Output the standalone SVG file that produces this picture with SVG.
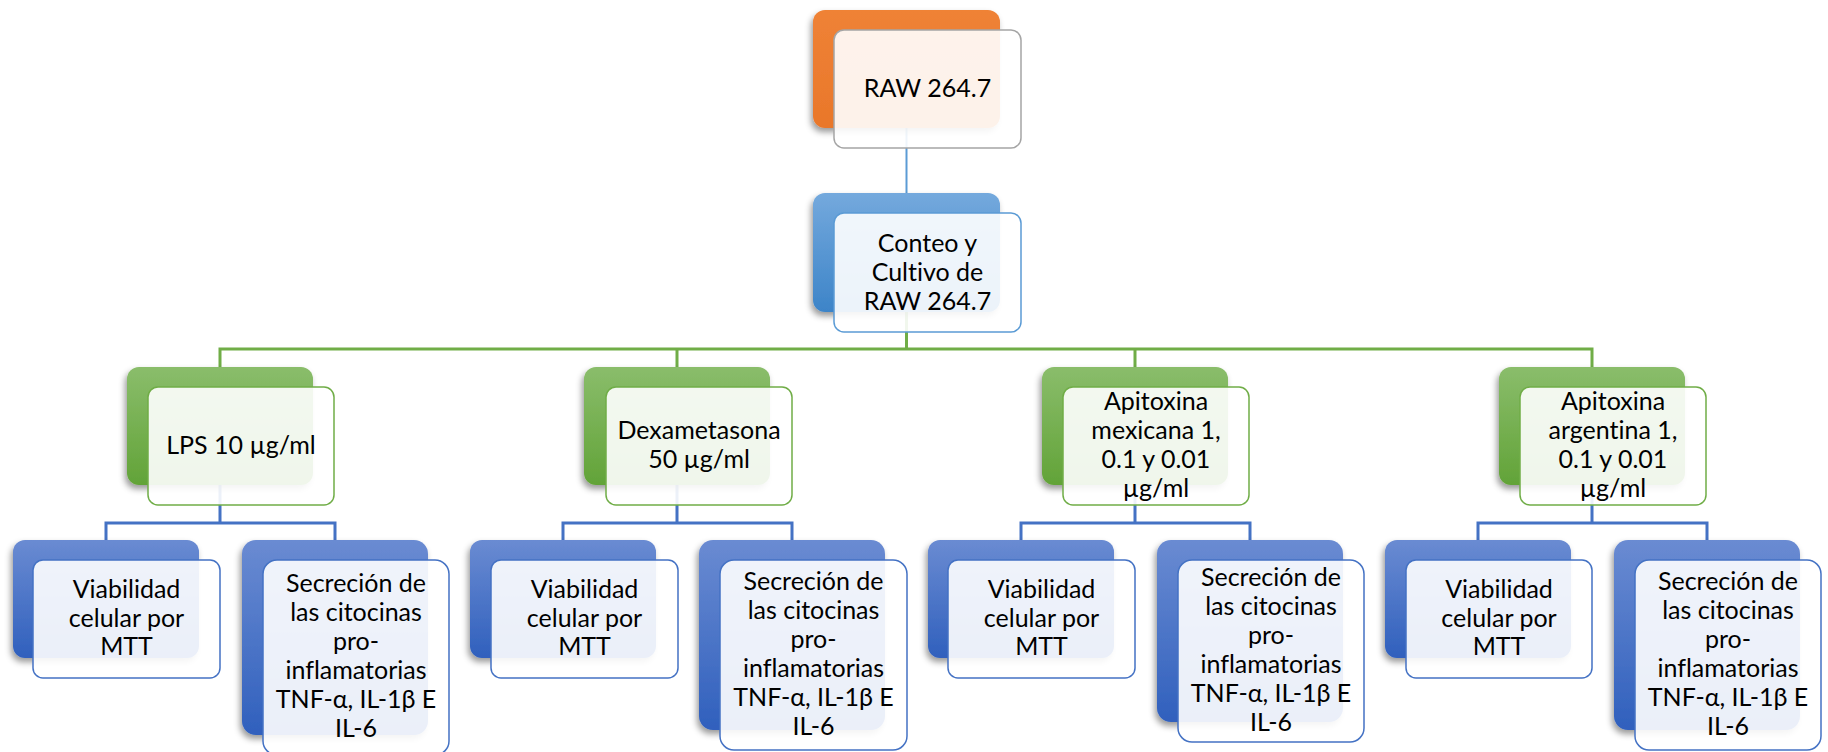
<svg xmlns="http://www.w3.org/2000/svg" width="1828" height="752" viewBox="0 0 1828 752">
<defs>
<linearGradient id="gOrange" x1="0" y1="0" x2="0" y2="1"><stop offset="0" stop-color="#ef8236"/><stop offset="1" stop-color="#e9772a"/></linearGradient>
<linearGradient id="gSky" x1="0" y1="0" x2="0" y2="1"><stop offset="0" stop-color="#74a9dd"/><stop offset="1" stop-color="#3d84c8"/></linearGradient>
<linearGradient id="gGreen" x1="0" y1="0" x2="0" y2="1"><stop offset="0" stop-color="#8abd6b"/><stop offset="1" stop-color="#62a338"/></linearGradient>
<linearGradient id="gBlue" x1="0" y1="0" x2="0" y2="1"><stop offset="0" stop-color="#6a8bd2"/><stop offset="1" stop-color="#3060bd"/></linearGradient>
<filter id="sh" x="-20%" y="-20%" width="140%" height="150%"><feDropShadow dx="-2" dy="4" stdDeviation="3" flood-color="#000" flood-opacity="0.4"/></filter>
</defs>
<style>
.back{filter:url(#sh)}
.front{fill:#ffffff;fill-opacity:0.9;stroke-width:1.5}
.t{font-family:Lato,"Liberation Sans",sans-serif;font-size:25px;fill:#000;text-anchor:middle;font-variant-ligatures:none;font-feature-settings:"liga" 0}
.c{fill:none;stroke-linejoin:miter}
</style>
<rect width="1828" height="752" fill="#fff"/>
<g id="connectors">
<path class="c" d="M906.5,128V193" stroke="#5b9bd5" stroke-width="2"/>
<path class="c" d="M906.5,312V349M220,367V349H1592V367M677,349V367M1135,349V367" stroke="#70ad47" stroke-width="3"/>
<path class="c" d="M220,485V523M106,540V523H335V540" stroke="#4472c4" stroke-width="3"/>
<path class="c" d="M677,485V523M563,540V523H792V540" stroke="#4472c4" stroke-width="3"/>
<path class="c" d="M1135,485V523M1021,540V523H1250V540" stroke="#4472c4" stroke-width="3"/>
<path class="c" d="M1592,485V523M1478,540V523H1707V540" stroke="#4472c4" stroke-width="3"/>
</g>
<g id="n-raw">
<rect class="back" x="813" y="10" width="187" height="118" rx="12" fill="url(#gOrange)"/>
<rect class="front" x="834" y="30" width="187" height="118" rx="10" stroke="#a5a5a5"/>
<text class="t" x="927.5" y="97">RAW 264.7</text>
</g>
<g id="n-conteo">
<rect class="back" x="813" y="193" width="187" height="119" rx="12" fill="url(#gSky)"/>
<rect class="front" x="834" y="213" width="187" height="119" rx="10" stroke="#5b9bd5"/>
<text class="t" x="927.5" y="252">Conteo y</text>
<text class="t" x="927.5" y="281">Cultivo de</text>
<text class="t" x="927.5" y="310">RAW 264.7</text>
</g>
<g id="n-lps">
<rect class="back" x="127" y="367" width="186" height="118" rx="12" fill="url(#gGreen)"/>
<rect class="front" x="148" y="387" width="186" height="118" rx="10" stroke="#70ad47"/>
<text class="t" x="241" y="454">LPS 10 µg/ml</text>
</g>
<g id="n-dexa">
<rect class="back" x="584" y="367" width="186" height="118" rx="12" fill="url(#gGreen)"/>
<rect class="front" x="606" y="387" width="186" height="118" rx="10" stroke="#70ad47"/>
<text class="t" x="699" y="439">Dexametasona</text>
<text class="t" x="699" y="468">50 µg/ml</text>
</g>
<g id="n-apimex">
<rect class="back" x="1042" y="367" width="186" height="118" rx="12" fill="url(#gGreen)"/>
<rect class="front" x="1063" y="387" width="186" height="118" rx="10" stroke="#70ad47"/>
<text class="t" x="1156" y="410">Apitoxina</text>
<text class="t" x="1156" y="439">mexicana 1,</text>
<text class="t" x="1156" y="468">0.1 y 0.01</text>
<text class="t" x="1156" y="497">µg/ml</text>
</g>
<g id="n-apiarg">
<rect class="back" x="1499" y="367" width="186" height="118" rx="12" fill="url(#gGreen)"/>
<rect class="front" x="1520" y="387" width="186" height="118" rx="10" stroke="#70ad47"/>
<text class="t" x="1613" y="410">Apitoxina</text>
<text class="t" x="1613" y="439">argentina 1,</text>
<text class="t" x="1613" y="468">0.1 y 0.01</text>
<text class="t" x="1613" y="497">µg/ml</text>
</g>
<g id="n-viab1">
<rect class="back" x="13" y="540" width="186" height="118" rx="12" fill="url(#gBlue)"/>
<rect class="front" x="33" y="560" width="187" height="118" rx="10" stroke="#4472c4"/>
<text class="t" x="126.5" y="598">Viabilidad</text>
<text class="t" x="126.5" y="627">celular por</text>
<text class="t" x="126.5" y="655">MTT</text>
</g>
<g id="n-secr1">
<rect class="back" x="242" y="540" width="186" height="195" rx="14" fill="url(#gBlue)"/>
<rect class="front" x="263" y="560" width="186" height="195" rx="14" stroke="#4472c4"/>
<text class="t" x="356" y="592">Secreción de</text>
<text class="t" x="356" y="621">las citocinas</text>
<text class="t" x="356" y="650">pro-</text>
<text class="t" x="356" y="679">inflamatorias</text>
<text class="t" x="356" y="708">TNF-α, IL-1β E</text>
<text class="t" x="356" y="737">IL-6</text>
</g>
<g id="n-viab2">
<rect class="back" x="470" y="540" width="186" height="118" rx="12" fill="url(#gBlue)"/>
<rect class="front" x="491" y="560" width="187" height="118" rx="10" stroke="#4472c4"/>
<text class="t" x="584.5" y="598">Viabilidad</text>
<text class="t" x="584.5" y="627">celular por</text>
<text class="t" x="584.5" y="655">MTT</text>
</g>
<g id="n-secr2">
<rect class="back" x="699" y="540" width="186" height="190" rx="14" fill="url(#gBlue)"/>
<rect class="front" x="720" y="560" width="187" height="190" rx="14" stroke="#4472c4"/>
<text class="t" x="813.5" y="590">Secreción de</text>
<text class="t" x="813.5" y="619">las citocinas</text>
<text class="t" x="813.5" y="648">pro-</text>
<text class="t" x="813.5" y="677">inflamatorias</text>
<text class="t" x="813.5" y="706">TNF-α, IL-1β E</text>
<text class="t" x="813.5" y="735">IL-6</text>
</g>
<g id="n-viab3">
<rect class="back" x="928" y="540" width="186" height="118" rx="12" fill="url(#gBlue)"/>
<rect class="front" x="948" y="560" width="187" height="118" rx="10" stroke="#4472c4"/>
<text class="t" x="1041.5" y="598">Viabilidad</text>
<text class="t" x="1041.5" y="627">celular por</text>
<text class="t" x="1041.5" y="655">MTT</text>
</g>
<g id="n-secr3">
<rect class="back" x="1157" y="540" width="186" height="182" rx="14" fill="url(#gBlue)"/>
<rect class="front" x="1178" y="560" width="186" height="182" rx="14" stroke="#4472c4"/>
<text class="t" x="1271" y="586">Secreción de</text>
<text class="t" x="1271" y="615">las citocinas</text>
<text class="t" x="1271" y="644">pro-</text>
<text class="t" x="1271" y="673">inflamatorias</text>
<text class="t" x="1271" y="702">TNF-α, IL-1β E</text>
<text class="t" x="1271" y="731">IL-6</text>
</g>
<g id="n-viab4">
<rect class="back" x="1385" y="540" width="186" height="118" rx="12" fill="url(#gBlue)"/>
<rect class="front" x="1406" y="560" width="186" height="118" rx="10" stroke="#4472c4"/>
<text class="t" x="1499" y="598">Viabilidad</text>
<text class="t" x="1499" y="627">celular por</text>
<text class="t" x="1499" y="655">MTT</text>
</g>
<g id="n-secr4">
<rect class="back" x="1614" y="540" width="186" height="190" rx="14" fill="url(#gBlue)"/>
<rect class="front" x="1635" y="560" width="186" height="190" rx="14" stroke="#4472c4"/>
<text class="t" x="1728" y="590">Secreción de</text>
<text class="t" x="1728" y="619">las citocinas</text>
<text class="t" x="1728" y="648">pro-</text>
<text class="t" x="1728" y="677">inflamatorias</text>
<text class="t" x="1728" y="706">TNF-α, IL-1β E</text>
<text class="t" x="1728" y="735">IL-6</text>
</g>
</svg>
